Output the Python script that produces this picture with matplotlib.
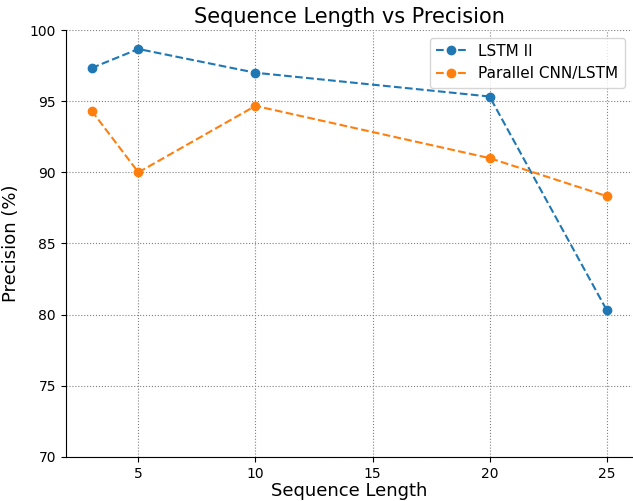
import matplotlib.pyplot as plt

seq_len = [3, 5, 10, 20, 25]
lstm_ii = [97.33, 98.67, 97.0, 95.33, 80.33]
parallel = [94.33, 90.0, 94.67, 91.0, 88.33]

fig, ax = plt.subplots(figsize=(6.33, 5.01), dpi=100)
ax.plot(seq_len, lstm_ii, 'o--', color='#1f77b4', label='LSTM II')
ax.plot(seq_len, parallel, 'o--', color='#ff7f0e', label='Parallel CNN/LSTM')

ax.set_ylim(70, 100)
ax.set_title('Sequence Length vs Precision', fontsize=15, pad=5)
ax.set_xlabel('Sequence Length', fontsize=13, labelpad=1)
ax.set_ylabel('Precision (%)', fontsize=13, labelpad=7)
ax.grid(True, linestyle=':', color='gray')
ax.spines['top'].set_visible(False)
ax.spines['right'].set_visible(False)
ax.legend(loc='upper right', fontsize=11)

plt.subplots_adjust(left=0.104, right=0.999, top=0.94, bottom=0.088)
plt.savefig('out.png')
